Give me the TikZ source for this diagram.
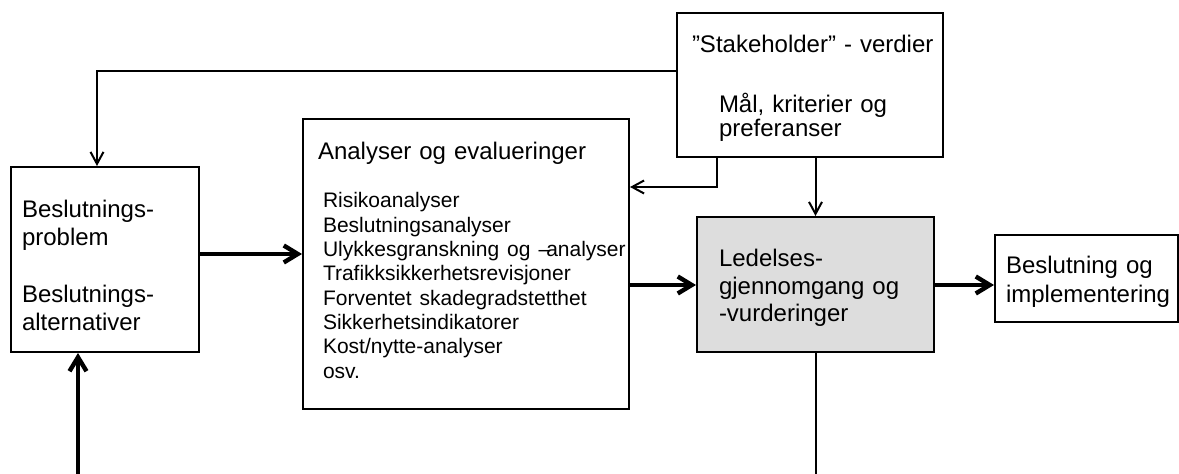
\documentclass[tikz,border=0pt]{standalone}
\usepackage{fontspec}
\setmainfont{Liberation Sans}
\usepackage{xcolor}
\usepackage{tikz}
\usetikzlibrary{arrows.meta}
\definecolor{ledgray}{RGB}{221,221,221}
\hyphenpenalty=10000
\exhyphenpenalty=10000
\tikzset{
  box/.style={draw, line width=1pt, rectangle, align=left, inner ysep=0pt},
  arr/.style={line width=1pt, -{Straight Barb[length=6pt,width=6.5pt]}},
  bigarr/.style={line width=2.2pt, -{Straight Barb[length=7pt,width=8.5pt]}},
  plainline/.style={line width=1pt},
}
\begin{document}
\begin{tikzpicture}[x=0.5pt, y=0.5pt]
  \useasboundingbox (0,0) rectangle (1179,-474);
  % boksene
  \node[box, text width=83pt, inner xsep=5.5pt, text height=25.5pt, text depth=67pt,
        font=\fontsize{12}{14}\selectfont] (prob) at (105,-259.5)
        {Beslutnings-\\problem\\[14.5pt]Beslutnings-\\alternativer};
  \node[box, text width=163pt, inner xsep=0pt, text height=20.5pt, text depth=124.5pt,
        font=\fontsize{12}{14}\selectfont] (ana) at (466,-264)
        {{\leftskip=7.5pt Analyser og evalueringer\par}\vspace{11.85pt}%
         {\fontsize{10.5}{12.15}\selectfont\leftskip=10pt Risikoanalyser\\Beslutningsanalyser\\\mbox{Ulykkesgranskning og –\kern-2pt analyser}\\Trafikksikkerhetsrevisjoner\\Forventet skadegradstetthet\\Sikkerhetsindikatorer\\Kost/nytte-analyser\\osv.\par}};
  \node[box, text width=124pt, inner xsep=4.5pt, text height=20pt, text depth=52pt,
        font=\fontsize{12}{12}\selectfont] (stake) at (810,-85)
        {{\leftskip=3pt ”Stakeholder” - verdier\par}\vspace{18pt}%
         {\leftskip=16.5pt Mål, kriterier og\\preferanser\par}};
  \node[box, fill=ledgray, text width=96.5pt, inner xsep=11pt, text height=25pt, text depth=42.5pt,
        font=\fontsize{12}{13.75}\selectfont] (led) at (815.5,-284.5)
        {Ledelses-\\gjennomgang og\\-vurderinger};
  \node[box, text width=80.5pt, inner xsep=5.5pt, text height=19.5pt, text depth=24pt,
        font=\fontsize{12}{14.5}\selectfont] (bes) at (1086.5,-278.5)
        {Beslutning og\\implementering};
  \coordinate (inbot) at (78,-474);
  \coordinate (outbot) at (816,-474);
  % piler
  \draw[arr] ([yshift=7pt]stake.west) -| ([xshift=-4pt]prob.north);
  \draw[arr] ([xshift=-46.5pt]stake.south) |- (ana.east |- 0,-187);
  \draw[arr] (led.north |- stake.south) -- (led.north);
  \draw[bigarr] (prob.east |- 0,-254) -- (ana.west |- 0,-254);
  \draw[bigarr] (ana.east |- 0,-285) -- (led.west |- 0,-285);
  \draw[bigarr] (led.east |- 0,-285) -- (bes.west |- 0,-285);
  \draw[bigarr] (inbot) -- (inbot |- prob.south);
  \draw[plainline] (led.south) -- (led.south |- outbot);
\end{tikzpicture}
\end{document}
